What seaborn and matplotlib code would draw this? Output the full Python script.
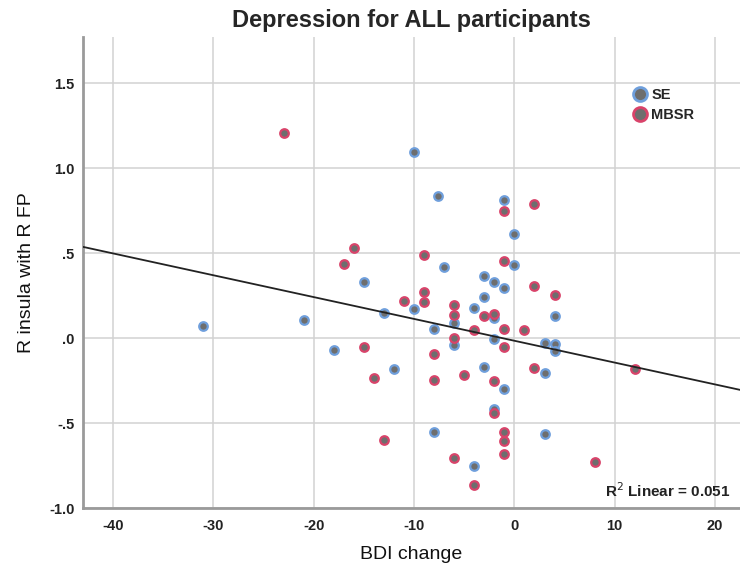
import numpy as np
import pandas as pd
import matplotlib
matplotlib.use("Agg")
import matplotlib.pyplot as plt
import seaborn as sns
from matplotlib.lines import Line2D

# ---- data ----
se_bdi = [-31, -21, -18, -15, -13, -12, -10, -10, -7.6, -8, -8, -7, -6, -6,
          -4, -4, -3, -3, -3, -2, -2, -2, -2, -1, -1, -1, 0, 0, 3, 3, 3, 4, 4, 4]
se_fc = [0.07, 0.106, -0.073, 0.328, 0.145, -0.18, 1.096, 0.172, 0.838, 0.056, -0.55, 0.417, 0.087, -0.04,
         0.177, -0.753, 0.366, 0.243, -0.169, 0.329, 0.12, -0.005, -0.42, 0.815, 0.297, -0.298, 0.615, 0.43,
         -0.032, -0.204, -0.562, 0.131, -0.037, -0.077]

mbsr_bdi = [-23, -17, -16, -15, -14, -13, -11, -9, -9, -9, -8, -8, -6, -6, -6, -6, -5, -4, -4, -3,
            -2, -2, -2, -1, -1, -1, -1, -1, -1, -1, 1, 2, 2, 2, 4, 8, 12]
mbsr_fc = [1.208, 0.435, 0.531, -0.054, -0.236, -0.597, 0.217, 0.49, 0.272, 0.212, -0.091, -0.247,
           0.196, 0.135, 0.002, -0.707, -0.219, 0.047, -0.867, 0.131, 0.143, -0.254, -0.44, 0.748,
           0.451, 0.051, -0.054, -0.551, -0.603, -0.684, 0.045, 0.79, 0.308, -0.179, 0.255, -0.73, -0.18]

groups = ["SE", "MBSR"]
x_ticks = [-40, -30, -20, -10, 0, 10, 20]
y_ticks = [-1.0, -0.5, 0.0, 0.5, 1.0, 1.5]
y_tick_labels = ["-1.0", "-.5", ".0", ".5", "1.0", "1.5"]
r2_text = "R$^2$ Linear = 0.051"

df = pd.DataFrame({
    "BDI change": se_bdi + mbsr_bdi,
    "R insula with R FP": se_fc + mbsr_fc,
    "group": ["SE"] * len(se_bdi) + ["MBSR"] * len(mbsr_bdi),
})

sns.set_style("white")
plt.rcParams["font.family"] = ["Liberation Sans", "DejaVu Sans"]

fig = plt.figure(figsize=(7.4, 5.76), dpi=100)
ax = fig.add_axes([0.1122, 0.118, 0.888, 0.818])

ax.set_xlim(-43.0, 22.5)
ax.set_ylim(-1.0, 1.772)

fill = "#6e6e6e"
edges = {"SE": "#6f9fdc", "MBSR": "#d9436a"}

for g in groups:
    sub = df[df["group"] == g]
    sns.scatterplot(data=sub, x="BDI change", y="R insula with R FP", ax=ax,
                    color=fill, edgecolor=edges[g], linewidth=1.6, s=38, zorder=3,
                    legend=False)

sns.regplot(data=df, x="BDI change", y="R insula with R FP", ax=ax, scatter=False,
            ci=None, truncate=False, line_kws=dict(color="#222222", lw=1.3, zorder=4))

ax.set_xlim(-43.0, 22.5)
ax.set_ylim(-1.0, 1.772)
ax.set_xticks(x_ticks)
ax.set_xticklabels([str(t) for t in x_ticks], fontsize=10.5, fontweight="bold", color="#222222")
ax.set_yticks(y_ticks)
ax.set_yticklabels(y_tick_labels, fontsize=10.5, fontweight="bold", color="#222222")
ax.tick_params(axis="y", length=0, pad=6)
ax.tick_params(axis="x", length=0, pad=8)

ax.grid(True, color="#d2d2d2", lw=1.1)
ax.set_axisbelow(True)
for s in ["top", "right"]:
    ax.spines[s].set_visible(False)
for s in ["left", "bottom"]:
    ax.spines[s].set_color("#9a9a9a")
    ax.spines[s].set_linewidth(2)

ax.set_xlabel("BDI change", fontsize=14, labelpad=9, color="#111111")
ax.set_ylabel("R insula with R FP", fontsize=14, labelpad=10, color="#111111")
ax.set_title("Depression for ALL participants", fontsize=17, fontweight="bold", pad=7)

handles = [Line2D([], [], marker="o", linestyle="", markersize=10, markerfacecolor=fill,
                  markeredgecolor=edges[g], markeredgewidth=2, label=g) for g in groups]
leg = ax.legend(handles=handles, loc="upper right", bbox_to_anchor=(0.95, 0.92), frameon=False,
                handletextpad=0.3, labelspacing=0.45, prop=dict(weight="bold", size=10.5),
                handlelength=1.0)

ax.text(0.985, 0.017, r2_text, transform=ax.transAxes, ha="right", va="bottom",
        fontsize=11, fontweight="bold", color="#222222")

fig.savefig("out.png", dpi=100)
